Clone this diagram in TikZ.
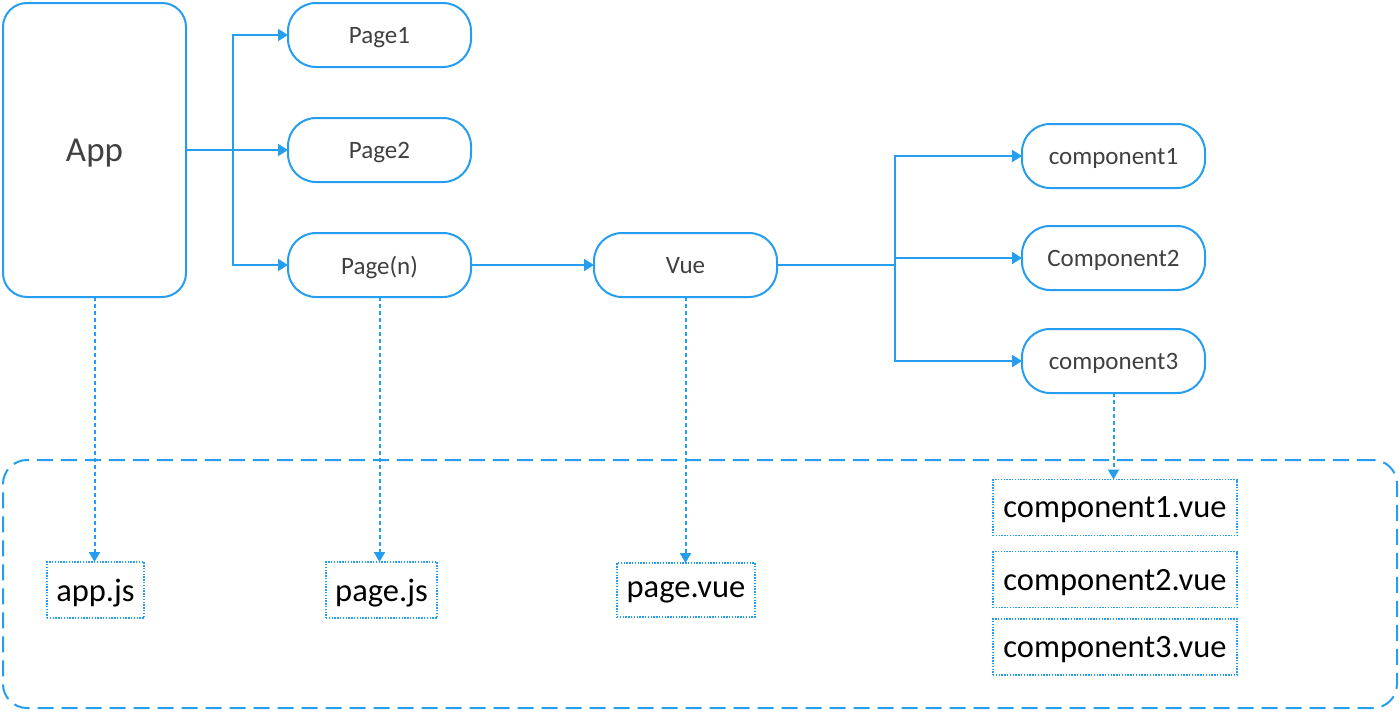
\documentclass[tikz,border=0pt]{standalone}
\usepackage{fontspec}
\setmainfont{Carlito}
\usetikzlibrary{arrows.meta}
\definecolor{lblue}{RGB}{38,158,240}
\definecolor{tgray}{RGB}{64,64,64}
\tikzset{
  pill/.style={draw=lblue, line width=1pt, rounded corners=14pt, fill=white,
    minimum width=91.5pt, minimum height=32pt, inner sep=0pt, outer sep=0pt,
    text depth=0pt, text=tgray, font=\fontsize{12.5}{15}\selectfont},
  appbox/.style={draw=lblue, line width=1pt, rounded corners=12pt, fill=white,
    minimum width=91.5pt, minimum height=147pt, inner sep=0pt, outer sep=0pt,
    text depth=0pt, text=tgray, font=\fontsize{17.5}{21}\selectfont},
  filebox/.style={draw=lblue, line width=0.7pt, dash pattern=on 0.7pt off 0.7pt,
    minimum height=28pt, inner sep=0pt, outer sep=0pt, text=black,
    text depth=0pt, font=\fontsize{16.25}{19}\selectfont},
  container/.style={draw=lblue, line width=1pt, dash pattern=on 8pt off 4pt,
    rounded corners=12pt, minimum width=697pt, minimum height=124pt, inner sep=0pt},
  conn/.style={draw=lblue, line width=1pt},
  arr/.style={conn, -{Triangle[length=5pt,width=6pt]}},
  darr/.style={draw=lblue, line width=1pt, dash pattern=on 2pt off 1.5pt,
    -{Triangle[length=5pt,width=5.5pt]}},
}
\begin{document}
\begin{tikzpicture}[x=0.5pt,y=-0.5pt]
\useasboundingbox (0,0) rectangle (1400,712);
% container
\node[container] (files) at (700,584) {};
% top nodes
\node[appbox] (app) at (94.5,150) {App};
\node[pill] (p1) at (379.5,35) {Page1};
\node[pill] (p2) at (379.5,150) {Page2};
\node[pill] (pn) at (379.5,265) {Page(n)};
\node[pill] (vue) at (685.5,265) {Vue};
\node[pill] (c1) at (1113.5,156) {component1};
\node[pill] (c2) at (1113.5,258) {Component2};
\node[pill] (c3) at (1113.5,361) {component3};
% file nodes
\node[filebox, minimum width=48.5pt] (appjs) at (95.5,590) {app.js};
\node[filebox, minimum width=55.5pt] (pagejs) at (381.5,590) {page.js};
\node[filebox, minimum width=69pt, minimum height=27pt] (pagevue) at (686,590) {page.vue};
\node[filebox, minimum width=122pt] (cv1) at (1115,507.5) {component1.vue};
\node[filebox, minimum width=122pt] (cv2) at (1115,579.5) {component2.vue};
\node[filebox, minimum width=122pt] (cv3) at (1115,647) {component3.vue};
% solid connectors
\coordinate (j1) at (233,150);
\coordinate (j2) at (895,265);
\draw[conn] (app.east) -- (j1);
\draw[arr] (j1) |- (p1);
\draw[arr] (j1) -- (p2);
\draw[arr] (j1) |- (pn);
\draw[arr] (pn) -- (vue);
\draw[conn] (vue.east) -- (j2);
\draw[arr] (j2) |- (c1);
\draw[arr] (j2 |- c2) -- (c2);
\draw[arr] (j2) |- (c3);
% dotted connectors
\draw[darr] (app.south) -- (app.south |- appjs.north);
\draw[darr] (pn.south) -- (pn.south |- pagejs.north);
\draw[darr] (vue.south) -- (vue.south |- pagevue.north);
\draw[darr] (c3.south) -- (c3.south |- cv1.north);
\end{tikzpicture}
\end{document}
